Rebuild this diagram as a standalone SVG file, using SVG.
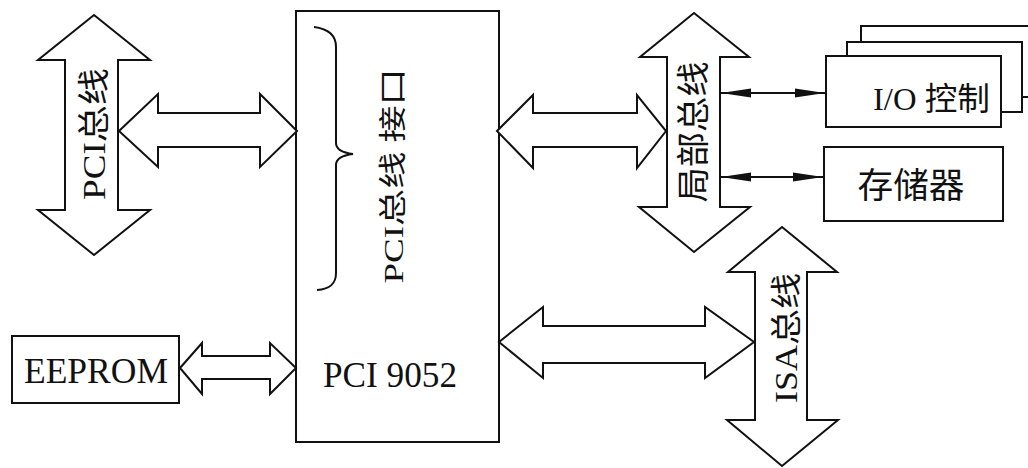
<svg xmlns="http://www.w3.org/2000/svg" width="1028" height="468" viewBox="0 0 1028 468">
<style>
.s{fill:#fff;stroke:#111;stroke-width:2;stroke-linejoin:miter}
.ln{fill:none;stroke:#111;stroke-width:2}
.t{font-family:"Liberation Serif","Noto Sans CJK SC",serif;fill:#111}
</style>
<defs>
<marker id="ah" markerUnits="userSpaceOnUse" markerWidth="30" markerHeight="10" refX="30" refY="5" orient="auto-start-reverse" viewBox="0 0 30 10">
<path d="M0,0.5 L30,5 L0,9.5 z" fill="#111"/>
</marker>
</defs>
<rect width="1028" height="468" fill="#fff"/>

<g id="pci9052">
<rect class="s" x="296" y="11" width="203" height="431"/>
<path class="ln" d="M314,27 C330,29 336,36 336,47 L336,143 C336,150 345,153 353,154 C345,155 336,158 336,165 L336,273 C336,284 330,289 317,290"/>
<text class="t" font-size="28" text-anchor="middle" dy="0.35em" textLength="215" lengthAdjust="spacingAndGlyphs" transform="translate(393,176) rotate(-90)">PCI总线 接口</text>
<text class="t" x="323" y="387" font-size="35" textLength="134" lengthAdjust="spacingAndGlyphs">PCI 9052</text>
</g>

<g id="pci-bus">
<polygon class="s" points="94,15 150,60 118,60 118,210 150,210 94,255 38,210 65,210 65,60 38,60"/>
<text class="t" font-size="32" text-anchor="middle" dy="0.35em" textLength="132" lengthAdjust="spacingAndGlyphs" transform="translate(94,134) rotate(-90)">PCI总线</text>
</g>

<g id="local-bus">
<polygon class="s" points="694,13 749,57 720,57 720,207 750,207 694,252 639,207 667,207 667,57 640,57"/>
<text class="t" font-size="33" text-anchor="middle" dy="0.35em" textLength="141" lengthAdjust="spacingAndGlyphs" transform="translate(693,132) rotate(-90)">局部总线</text>
</g>

<g id="isa-bus">
<polygon class="s" points="782,227 837,272 807,272 807,420 838,420 782,466 727,420 755,420 755,272 728,272"/>
<text class="t" font-size="31" text-anchor="middle" dy="0.35em" textLength="130" lengthAdjust="spacingAndGlyphs" transform="translate(786,338) rotate(-90)">ISA总线</text>
</g>

<g id="eeprom">
<rect class="s" x="12" y="336" width="167" height="67"/>
<text class="t" x="96" y="383" font-size="35" text-anchor="middle" textLength="144" lengthAdjust="spacingAndGlyphs">EEPROM</text>
</g>

<g id="io-control">
<rect class="s" x="861" y="26" width="180" height="71"/>
<rect class="s" x="847" y="42" width="175" height="70"/>
<rect class="s" x="826" y="56" width="175" height="71"/>
<text class="t" x="990" y="110" font-size="32" text-anchor="end" textLength="117" lengthAdjust="spacingAndGlyphs">I/O 控制</text>
</g>

<g id="memory">
<rect class="s" x="824" y="147" width="179" height="74"/>
<text class="t" x="911" y="198" font-size="35" text-anchor="middle" textLength="107" lengthAdjust="spacingAndGlyphs">存储器</text>
</g>

<g id="connectors">
<polygon class="s" points="119,131 158,94 158,113 260,113 260,94 297,131 260,167 260,147 158,147 158,167"/>
<polygon class="s" points="497,131 533,95 533,113 637,113 637,95 666,131 637,168 637,147 533,147 533,168"/>
<polygon class="s" points="499,342 543,307 543,326 705,326 705,307 754,342 705,378 705,363 543,363 543,378"/>
<polygon class="s" points="180,368 202,343 202,356 270,356 270,343 296,368 270,394 270,379 202,379 202,394"/>
<line class="ln" x1="721" y1="93" x2="825" y2="93" marker-start="url(#ah)" marker-end="url(#ah)"/>
<line class="ln" x1="721" y1="177" x2="823" y2="177" marker-start="url(#ah)" marker-end="url(#ah)"/>
</g>
</svg>
